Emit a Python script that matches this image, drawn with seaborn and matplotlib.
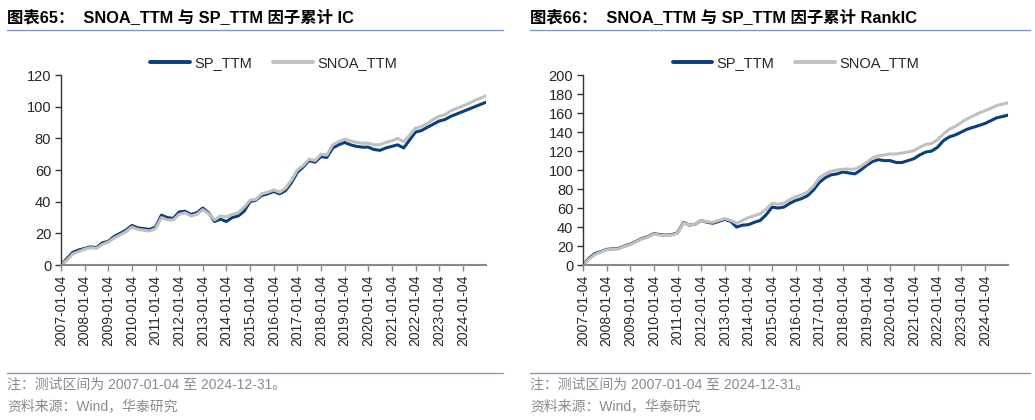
import numpy as np
import pandas as pd
import matplotlib
matplotlib.use("Agg")
import matplotlib.pyplot as plt
from matplotlib.lines import Line2D
import seaborn as sns

sns.set_style("white")
plt.rcParams["font.family"] = ["Liberation Sans", "Noto Sans CJK SC", "DejaVu Sans"]
plt.rcParams["axes.unicode_minus"] = False

# quarterly readings, 2007-01-04 .. 2024-12-31
dates = pd.date_range("2007-01-04", "2024-12-31", periods=73)

ic_sp = [0, 4, 8, 9.5, 10.5, 11.5, 11, 14, 15, 18, 20, 22, 25, 23.5, 23, 22.5,
         24, 31.5, 30, 29.5, 33.5, 34, 32, 33, 36, 33, 27.5, 29, 27.5, 30, 31, 34,
         40, 41, 44, 45, 46.5, 45, 47, 52, 58.5, 62, 66, 65, 68.5, 68, 74, 76,
         77.5, 76, 75, 74.5, 74.5, 73, 72.5, 74, 75, 76, 74, 79, 84, 85, 87, 89,
         91, 92, 94, 95.5, 97, 98.5, 100, 101.5, 103]
ic_snoa = [0, 3, 7, 8.5, 10, 11, 10.5, 13, 14.5, 17, 19, 21, 24, 22.5, 22, 21.5,
           23, 30, 28.5, 28.5, 32, 33, 31, 32, 35, 32.5, 28.5, 31, 30.5, 32, 33, 36.5,
           41, 41.5, 45, 46, 47.5, 46, 48.5, 53.5, 60, 63, 67, 66, 70, 69.5, 76, 78,
           79.5, 78.5, 77.5, 77, 77, 76, 76, 77.5, 78.5, 80, 78, 82, 86.5, 87.5, 89.5, 92,
           94, 95, 97.5, 99, 100.5, 102, 104, 105.5, 107]
ric_sp = [0, 7, 12, 14, 16.5, 17, 17.5, 20, 22, 25, 28, 30, 33, 32, 31.5, 32,
          34, 45, 42, 43, 47, 45, 44, 46, 48, 46, 40, 42, 42.5, 45, 47, 53,
          61, 60, 61, 65, 68, 70, 73, 79, 87, 92, 95, 96, 98, 97, 96, 100,
          105, 109, 111, 110, 110, 108, 108, 110, 112, 116, 119, 120, 124, 131, 135, 137,
          140, 143, 145, 147, 149, 152, 155, 156.5, 158]
ric_snoa = [0, 6, 11, 13.5, 16, 16.5, 17, 19.5, 21.5, 24.5, 27.5, 29.5, 32.5, 31.5, 31, 31.5,
            33.5, 44.5, 42, 43, 47, 45.5, 45, 47, 49, 47, 44, 47, 50, 52, 54, 59,
            65, 64, 65, 69, 72, 74, 77, 83, 92, 96, 99, 100, 101, 101, 101, 104,
            108, 113, 115, 116, 117, 117, 118, 119, 120.5, 124, 127, 128, 132, 138, 143, 146,
            150, 154, 157, 160, 162.5, 165, 168, 169.5, 171]

tick_dates = pd.to_datetime([f"{y}-01-04" for y in range(2007, 2025)])
titles = ["图表65：  SNOA_TTM 与 SP_TTM 因子累计 IC",
          "图表66：  SNOA_TTM 与 SP_TTM 因子累计 RankIC"]
note = "注：测试区间为 2007-01-04 至 2024-12-31。"
source = "资料来源：Wind，华泰研究"

BLUE = "#0b3f7c"
GREY = "#c0c0c0"
RULE = "#7f9cc0"

fig = plt.figure(figsize=(10.35, 4.2), dpi=100)

panels = [
    (0.0589, ic_sp, ic_snoa, 120, 20, 0.007, 0.486),
    (0.5633, ric_sp, ric_snoa, 200, 20, 0.512, 0.995),
]

for i, (left, sp, snoa, ymax, ystep, x0, x1) in enumerate(panels):
    ax = fig.add_axes([left, 0.369, 0.411, 0.452])
    df = pd.DataFrame({"date": np.concatenate([dates, dates]),
                       "value": sp + snoa,
                       "series": ["SP_TTM"] * len(sp) + ["SNOA_TTM"] * len(snoa)})
    sns.lineplot(data=df, x="date", y="value", hue="series",
                 palette={"SP_TTM": BLUE, "SNOA_TTM": GREY},
                 hue_order=["SP_TTM", "SNOA_TTM"], linewidth=2.2, ax=ax)
    ax.set_xlim(dates[0], dates[-1])
    ax.set_ylim(0, ymax)
    ax.set_yticks(np.arange(0, ymax + 1, ystep))
    ax.set_xticks(tick_dates)
    ax.set_xticklabels([d.strftime("%Y-%m-%d") for d in tick_dates], rotation=90)
    ax.set_xlabel("")
    ax.set_ylabel("")
    for s in ["top", "right"]:
        ax.spines[s].set_visible(False)
    ax.spines["left"].set_color("#333333")
    ax.spines["left"].set_linewidth(1.0)
    ax.spines["bottom"].set_color("#888888")
    ax.spines["bottom"].set_linewidth(1.5)
    ax.tick_params(axis="y", direction="out", length=4, width=1, color="#333333",
                   labelsize=10.5, pad=3, left=True)
    ax.tick_params(axis="x", direction="out", length=4, width=1, color="#888888",
                   labelsize=10, pad=3, bottom=True)
    leg = ax.legend(loc="center", bbox_to_anchor=(0.5, 1.0 + 12 / 190), ncol=2,
                    frameon=False, fontsize=10.5, handlelength=2.7,
                    columnspacing=1.45, handletextpad=0.3, borderaxespad=0)
    for h in leg.get_lines():
        h.set_linewidth(2.8)

    fig.text(x0, 1 - 17 / 420, titles[i], fontsize=11.8, fontweight="bold",
             va="center", ha="left", color="#000000")
    fig.add_artist(Line2D([x0, x1], [1 - 30 / 420] * 2, color=RULE, lw=1.0))
    fig.add_artist(Line2D([x0, x1], [1 - 373 / 420] * 2, color=RULE, lw=1.0))
    fig.text(x0, 1 - 385 / 420, note, fontsize=10, va="center", ha="left",
             color="#8a8a8a")
    fig.text(x0, 1 - 406 / 420, source, fontsize=10, va="center", ha="left",
             color="#8a8a8a")

fig.savefig("out.png", dpi=100)
